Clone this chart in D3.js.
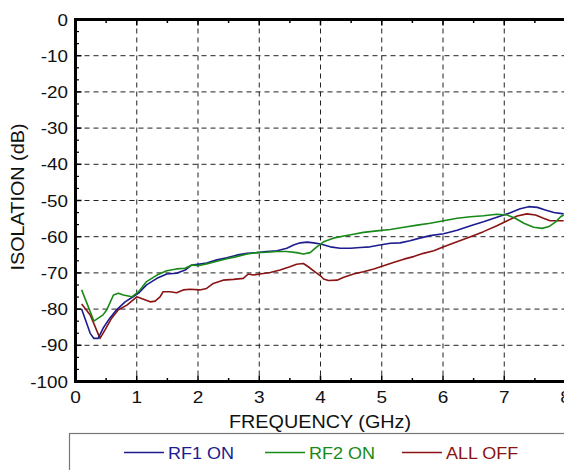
<!DOCTYPE html>
<html>
<head>
<meta charset="utf-8">
<script src="https://cdn.jsdelivr.net/npm/d3@7"></script>
<style>
  html, body { margin: 0; padding: 0; background: #fff; }
  svg { display: block; font-family: "Liberation Sans", Arial, sans-serif; }
</style>
</head>
<body>
<svg id="chart" width="564" height="470"></svg>
<script>
// ---- DATA ----
const xTicks = [0, 1, 2, 3, 4, 5, 6, 7, 8];
const yTicks = [0, -10, -20, -30, -40, -50, -60, -70, -80, -90, -100];

const rf1Freq = [0.10, 0.24, 0.30, 0.37, 0.45, 0.56, 0.67, 0.81, 0.94, 1.03, 1.16, 1.33, 1.49, 1.65, 1.79, 1.90, 2.00,
  2.14, 2.31, 2.47, 2.63, 2.80, 2.96, 3.12, 3.29, 3.45, 3.56, 3.67, 3.78, 3.89, 4.00,
  4.16, 4.32, 4.49, 4.65, 4.81, 4.97, 5.14, 5.30, 5.46, 5.62, 5.79, 6.01, 6.23, 6.45, 6.66, 6.88,
  7.10, 7.26, 7.40, 7.54, 7.67, 7.81, 7.97];
const rf1Db = [-80.0, -86.7, -88.1, -88.1, -85.3, -82.5, -80.2, -78.0, -76.6, -75.6, -73.3, -71.5, -70.3, -70.1, -69.2, -67.8, -67.6,
  -67.3, -66.4, -65.8, -65.1, -64.6, -64.4, -64.1, -63.9, -63.2, -62.3, -61.7, -61.5, -61.7, -62.0,
  -62.8, -63.2, -63.2, -63.0, -62.8, -62.3, -61.8, -61.7, -61.1, -60.4, -59.7, -59.2, -58.2, -57.0, -55.9, -54.6,
  -53.4, -52.3, -51.7, -51.9, -52.6, -53.3, -53.7];

const rf2Freq = [0.10, 0.30, 0.45, 0.51, 0.62, 0.70, 0.78, 0.92, 1.03, 1.16, 1.33, 1.49, 1.65, 1.79, 1.90, 2.00,
  2.14, 2.31, 2.47, 2.63, 2.80, 2.96, 3.12, 3.29, 3.45, 3.61, 3.72, 3.83, 3.94, 4.05,
  4.21, 4.38, 4.54, 4.70, 4.92, 5.14, 5.36, 5.58, 5.79, 6.01, 6.23, 6.45, 6.66, 6.88,
  7.05, 7.18, 7.32, 7.48, 7.62, 7.73, 7.84, 7.92, 7.97];
const rf2Db = [-74.7, -83.3, -81.6, -80.2, -76.1, -75.6, -76.1, -76.6, -75.2, -72.4, -70.6, -69.4, -68.9, -68.7, -67.8, -68.0,
  -67.5, -66.8, -66.1, -65.5, -64.8, -64.4, -64.3, -64.1, -64.1, -64.4, -64.8, -64.4, -62.8, -61.4,
  -60.4, -59.8, -59.3, -58.8, -58.4, -58.0, -57.4, -56.8, -56.3, -55.6, -54.9, -54.5, -54.2, -53.8,
  -54.0, -54.9, -56.3, -57.4, -57.7, -57.2, -55.9, -54.5, -54.0];

const offFreq = [0.10, 0.24, 0.40, 0.48, 0.59, 0.70, 0.84, 1.00, 1.11, 1.22, 1.30, 1.38, 1.43, 1.54, 1.65, 1.76, 1.87, 2.03,
  2.14, 2.25, 2.41, 2.58, 2.74, 2.82, 2.90, 3.01, 3.18, 3.34, 3.50, 3.61, 3.72, 3.80, 3.91, 4.00,
  4.05, 4.13, 4.27, 4.38, 4.54, 4.70, 4.87, 5.03, 5.19, 5.36, 5.52, 5.68, 5.85, 6.01, 6.23, 6.45, 6.66, 6.88,
  7.05, 7.21, 7.37, 7.51, 7.64, 7.75, 7.89, 7.97];
const offDb = [-78.6, -81.6, -88.1, -85.8, -82.5, -80.2, -78.9, -76.6, -77.3, -78.0, -77.8, -76.6, -75.2, -75.2, -75.5, -74.7, -74.5, -74.7,
  -74.3, -72.9, -72.0, -71.8, -71.5, -70.3, -70.6, -70.3, -69.9, -69.2, -68.3, -67.6, -67.4, -68.3, -69.7, -70.8,
  -71.7, -72.1, -72.0, -71.2, -70.3, -69.7, -68.9, -68.0, -67.1, -66.2, -65.5, -64.6, -63.9, -62.8, -61.4, -60.0, -58.6, -57.0,
  -55.6, -54.3, -53.7, -54.0, -54.9, -55.6, -55.6, -55.6];

const seriesNames = ['RF1 ON', 'RF2 ON', 'ALL OFF'];
const seriesColors = ['#1c1c8f', '#178a17', '#8a1414'];

// ---- LAYOUT ----
const svg = d3.select('#chart');
const plot = { left: 75.5, right: 565.5, top: 19.5, bottom: 381.5 };

const x = d3.scaleLinear().domain([0, 8]).range([plot.left, plot.right]);
const y = d3.scaleLinear().domain([-100, 0]).range([plot.bottom, plot.top]);

// the reference font is a little wider than Liberation Sans: stretch horizontally
const wide = (tx, ty, sx) => `translate(${tx},${ty}) scale(${sx},1)`;

// grid (dashed)
const grid = svg.append('g');
grid.selectAll('.gx').data(xTicks.slice(1, -1)).enter().append('line')
  .attr('x1', d => x(d)).attr('x2', d => x(d))
  .attr('y1', plot.top).attr('y2', plot.bottom)
  .attr('stroke', '#222').attr('stroke-width', 1).attr('stroke-dasharray', '5,4');
grid.selectAll('.gy').data(yTicks.slice(1, -1)).enter().append('line')
  .attr('x1', plot.left).attr('x2', plot.right)
  .attr('y1', d => y(d)).attr('y2', d => y(d))
  .attr('stroke', '#222').attr('stroke-width', 1).attr('stroke-dasharray', '5,4');

// ---- CURVES ----
const line = d3.line().x(d => x(d[0])).y(d => y(d[1]));
const series = [
  d3.zip(rf1Freq, rf1Db),
  d3.zip(rf2Freq, rf2Db),
  d3.zip(offFreq, offDb)
];
// red underneath, then blue, green on top
[2, 0, 1].forEach(i => {
  svg.append('path')
    .datum(series[i])
    .attr('fill', 'none')
    .attr('stroke', seriesColors[i])
    .attr('stroke-width', 1.6)
    .attr('stroke-linejoin', 'round')
    .attr('d', line);
});

// ---- AXES ----
// minor ticks: x every 0.5, y every 10/3
const xMinor = d3.range(0, 8.01, 0.5).filter(v => v % 1 !== 0);
const yMinor = d3.range(0, 30).map(i => -100 + i * 10 / 3).filter((v, i) => i % 3 !== 0);

const axisG = svg.append('g').attr('stroke', '#000');
axisG.selectAll('.txb').data(xTicks).enter().append('line')
  .attr('x1', d => x(d)).attr('x2', d => x(d))
  .attr('y1', plot.bottom).attr('y2', plot.bottom - 6).attr('stroke-width', 1.5);
axisG.selectAll('.txt').data(xTicks).enter().append('line')
  .attr('x1', d => x(d)).attr('x2', d => x(d))
  .attr('y1', plot.top).attr('y2', plot.top + 6).attr('stroke-width', 1.5);
axisG.selectAll('.tmb').data(xMinor).enter().append('line')
  .attr('x1', d => x(d)).attr('x2', d => x(d))
  .attr('y1', plot.bottom).attr('y2', plot.bottom - 3.5).attr('stroke-width', 1.5);
axisG.selectAll('.tmt').data(xMinor).enter().append('line')
  .attr('x1', d => x(d)).attr('x2', d => x(d))
  .attr('y1', plot.top).attr('y2', plot.top + 3.5).attr('stroke-width', 1.5);
axisG.selectAll('.tyl').data(yTicks).enter().append('line')
  .attr('x1', plot.left).attr('x2', plot.left + 6)
  .attr('y1', d => y(d)).attr('y2', d => y(d)).attr('stroke-width', 1.5);
axisG.selectAll('.tml').data(yMinor).enter().append('line')
  .attr('x1', plot.left).attr('x2', plot.left + 3.5)
  .attr('y1', d => y(d)).attr('y2', d => y(d)).attr('stroke-width', 1.2);

// frame
svg.append('rect')
  .attr('x', plot.left).attr('y', plot.top)
  .attr('width', plot.right - plot.left).attr('height', plot.bottom - plot.top)
  .attr('fill', 'none').attr('stroke', '#000').attr('stroke-width', 3);

// tick labels
svg.append('g').selectAll('text').data(xTicks).enter().append('text')
  .attr('transform', d => wide(x(d), 403, 1.12))
  .attr('text-anchor', 'middle').attr('font-size', 17).attr('fill', '#111')
  .text(d => d);
svg.append('g').selectAll('text').data(yTicks).enter().append('text')
  .attr('transform', d => wide(68, y(d) + 6, 1.14))
  .attr('text-anchor', 'end').attr('font-size', 16.5).attr('fill', '#111')
  .text(d => d);

// axis titles
svg.append('text')
  .attr('transform', wide(320, 428, 1.1))
  .attr('text-anchor', 'middle').attr('font-size', 18).attr('fill', '#111')
  .text('FREQUENCY (GHz)');
svg.append('text')
  .attr('transform', 'translate(24,197) rotate(-90) scale(1.1,1)')
  .attr('text-anchor', 'middle').attr('font-size', 18).attr('fill', '#111')
  .text('ISOLATION (dB)');

// ---- LEGEND ----
svg.append('rect')
  .attr('x', 69.5).attr('y', 433.5).attr('width', 520).attr('height', 60)
  .attr('fill', '#fff').attr('stroke', '#777').attr('stroke-width', 1.2);

const legendX = [124, 265, 402];
const leg = svg.append('g').selectAll('g').data(seriesNames).enter().append('g')
  .attr('transform', (d, i) => `translate(${legendX[i]},452.5)`);
leg.append('line')
  .attr('x1', 0).attr('x2', 40).attr('y1', 0).attr('y2', 0)
  .attr('stroke', (d, i) => seriesColors[i]).attr('stroke-width', 1.6);
leg.append('text')
  .attr('transform', wide(44, 6.5, 1.06))
  .attr('font-size', 17).attr('fill', (d, i) => seriesColors[i])
  .text(d => d);
</script>
</body>
</html>
